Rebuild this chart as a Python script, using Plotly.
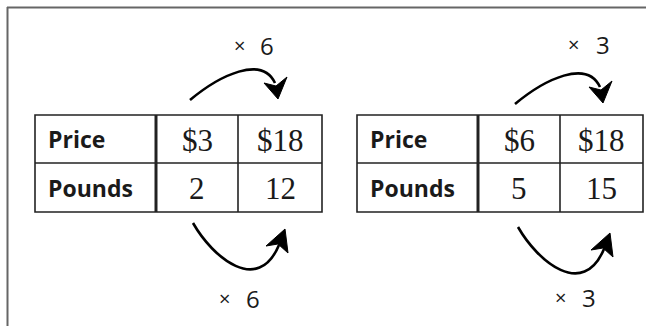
import plotly.graph_objects as go

# table contents
row_labels = ["Price", "Pounds"]
left_prices = ["$3", "$18"]
left_pounds = ["2", "12"]
left_factor = "6"
right_prices = ["$6", "$18"]
right_pounds = ["5", "15"]
right_factor = "3"

W, H = 646, 326
INK = "#222222"
LABEL_FONT = dict(family="Open Sans", size=23, color="#1a1a1a")
NUM_FONT = dict(family="Liberation Serif", size=31, color="#1a1a1a")
X_FONT = dict(family="Open Sans", size=20, color="#1a1a1a")
F_FONT = dict(family="Open Sans", size=24, color="#1a1a1a")

fig = go.Figure()
shapes = []
annotations = []


def add_table(xs, ys, prices, pounds):
    # outer box and grid
    shapes.append(dict(type="rect", x0=xs[0], x1=xs[3], y0=ys[0], y1=ys[2],
                       line=dict(color=INK, width=1.6)))
    shapes.append(dict(type="line", x0=xs[0], x1=xs[3], y0=ys[1], y1=ys[1],
                       line=dict(color=INK, width=1.6)))
    shapes.append(dict(type="line", x0=xs[1], x1=xs[1], y0=ys[0], y1=ys[2],
                       line=dict(color=INK, width=3)))
    shapes.append(dict(type="line", x0=xs[2], x1=xs[2], y0=ys[0], y1=ys[2],
                       line=dict(color=INK, width=1.6)))
    rows = [prices, pounds]
    for r, lab in enumerate(row_labels):
        yc = (ys[r] + ys[r + 1]) / 2
        annotations.append(dict(x=xs[0] + 11, y=yc, text="<b>%s</b>" % lab, xanchor="left",
                                yanchor="middle", showarrow=False, font=LABEL_FONT))
        for c in range(2):
            xc = (xs[c + 1] + xs[c + 2]) / 2
            annotations.append(dict(x=xc, y=yc + 1, text=rows[r][c], xanchor="center",
                                    yanchor="middle", showarrow=False, font=NUM_FONT))


def add_arrow(sx, sy, top):
    if top:
        p1, p2, p3 = (30, -25), (72, -45), (85, -17)
        tip, lc, rc, notch = (88, -1), (74, -17), (97, -23), (86, -14)
    else:
        p1, p2, p3 = (20, 35), (65, 72), (86, 22)
        tip, lc, rc, notch = (92, 6), (73, 23), (95, 30), (85, 21)
    path = "M %g,%g C %g,%g %g,%g %g,%g" % (sx, sy, sx + p1[0], sy + p1[1],
                                          sx + p2[0], sy + p2[1], sx + p3[0], sy + p3[1])
    shapes.append(dict(type="path", path=path, line=dict(color="black", width=2.6)))
    head = "M %g,%g L %g,%g L %g,%g L %g,%g Z" % (sx + tip[0], sy + tip[1], sx + lc[0], sy + lc[1],
                                                 sx + notch[0], sy + notch[1], sx + rc[0], sy + rc[1])
    shapes.append(dict(type="path", path=head, fillcolor="black", line=dict(color="black", width=1)))


def add_factor(xx, xn, y, factor):
    annotations.append(dict(x=xx, y=y, text="×", showarrow=False, xanchor="center",
                            yanchor="middle", font=X_FONT))
    annotations.append(dict(x=xn, y=y, text=factor, showarrow=False, xanchor="center",
                            yanchor="middle", font=F_FONT))


rows_y = [115, 163, 212]
add_table([35, 156, 238, 322], rows_y, left_prices, left_pounds)
add_table([357, 478, 560, 643], rows_y, right_prices, right_pounds)

add_arrow(190, 100, True)
add_arrow(193, 223, False)
add_arrow(515, 104, True)
add_arrow(518, 227, False)

add_factor(239, 267, 45, left_factor)
add_factor(224, 253, 298, left_factor)
add_factor(573, 603, 44, right_factor)
add_factor(560, 589, 297, right_factor)

# frame lines at top and left
shapes.append(dict(type="line", x0=7, x1=W, y0=7.5, y1=7.5, line=dict(color="#666666", width=2)))
shapes.append(dict(type="line", x0=7.5, x1=7.5, y0=7, y1=H, line=dict(color="#666666", width=2)))

fig.update_layout(
    width=W, height=H,
    margin=dict(l=0, r=0, t=0, b=0),
    paper_bgcolor="white", plot_bgcolor="white",
    xaxis=dict(range=[0, W], visible=False, fixedrange=True),
    yaxis=dict(range=[H, 0], visible=False, fixedrange=True),
    shapes=shapes, annotations=annotations, showlegend=False,
)
fig.write_html("out.html", config={"displayModeBar": False},
               post_script="document.body.style.margin='0';document.body.style.overflow='hidden';")
